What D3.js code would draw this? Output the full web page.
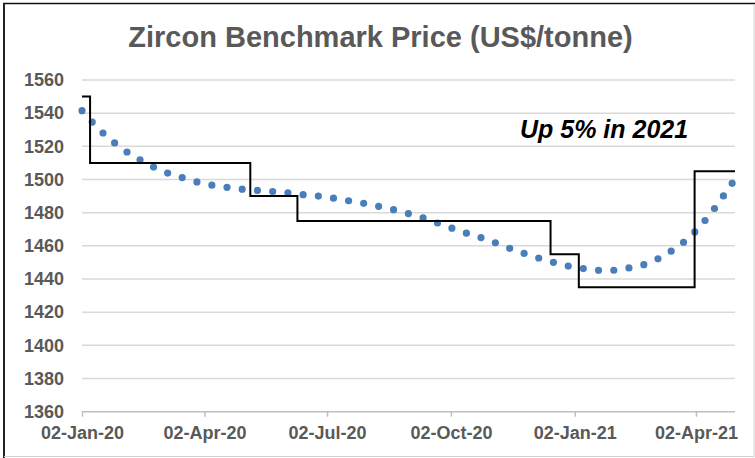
<!DOCTYPE html>
<html>
<head>
<meta charset="utf-8">
<script src="https://cdn.jsdelivr.net/npm/d3@7"></script>
<style>
  body { margin: 0; background: #fff; }
  svg { display: block; font-family: "Liberation Sans", Arial, sans-serif; }
</style>
</head>
<body>
<div id="main"></div>
<script>
// benchmark price, stepped: date the price changed and the new price
const stepDates = ['2020-01-02', '2020-01-08', '2020-05-06', '2020-06-10', '2020-12-15', '2021-01-05', '2021-04-01', '2021-05-01'];
const stepPrices = [1550, 1510, 1490, 1475, 1455, 1435, 1505, 1505];

// trendline
const trendDates = ['2020-01-02', '2020-01-17', '2020-02-01', '2020-02-16', '2020-03-02', '2020-03-17',
    '2020-04-01', '2020-04-16', '2020-05-01', '2020-05-16', '2020-05-31', '2020-06-15', '2020-06-30',
    '2020-07-15', '2020-07-30', '2020-08-14', '2020-08-29', '2020-09-13', '2020-09-28', '2020-10-13',
    '2020-10-28', '2020-11-12', '2020-11-27', '2020-12-12', '2020-12-27', '2021-01-11', '2021-01-26',
    '2021-02-10', '2021-02-25', '2021-03-12', '2021-03-27', '2021-04-11', '2021-04-26', '2021-04-30'];
const trendValues = [1541.5, 1528.5, 1518.5, 1511, 1505, 1501,
    1497.6, 1495.6, 1494.1, 1493.1, 1492.2, 1490.8, 1489.6,
    1487.6, 1485.5, 1483, 1480, 1476.4, 1472, 1467.8,
    1464, 1459.3, 1455, 1451.3, 1448, 1446, 1445.1,
    1446.5, 1449.4, 1455.5, 1464.4, 1477.5, 1494.3, 1499];

const xTickLabels = ['2020-01-02', '2020-04-02', '2020-07-02', '2020-10-02', '2021-01-02', '2021-04-02'];
const yTicks = [1360, 1380, 1400, 1420, 1440, 1460, 1480, 1500, 1520, 1540, 1560];

const title = 'Zircon Benchmark Price (US$/tonne)';
const note = 'Up 5% in 2021';

const width = 755, height = 458;
const parse = d3.utcParse('%Y-%m-%d');

const steps = stepDates.map((d, i) => ({ date: parse(d), value: stepPrices[i] }));
const trend = trendDates.map((d, i) => ({ date: parse(d), value: trendValues[i] }));

const x = d3.scaleUtc().domain([parse('2020-01-02'), parse('2021-05-01')]).range([82, 735]);
const y = d3.scaleLinear().domain([1360, 1560]).range([411.7, 80]);

let svg = d3.select('#main')
    .append('svg')
        .attr('width', width)
        .attr('height', height);

// frame
svg.append('line').attr('x1', 3).attr('x2', 755).attr('y1', 3.5).attr('y2', 3.5).attr('stroke', '#111').attr('stroke-width', 1.5);
svg.append('line').attr('x1', 4).attr('x2', 4).attr('y1', 3).attr('y2', 458).attr('stroke', '#222').attr('stroke-width', 2);
svg.append('line').attr('x1', 754).attr('x2', 754).attr('y1', 4).attr('y2', 457).attr('stroke', '#d0d0d0').attr('stroke-width', 1);
svg.append('line').attr('x1', 4).attr('x2', 754).attr('y1', 456.5).attr('y2', 456.5).attr('stroke', '#d0d0d0').attr('stroke-width', 1);

// gridlines
svg.selectAll('.grid')
    .data(yTicks.slice(1))
    .enter()
    .append('line')
        .attr('class', 'grid')
        .attr('x1', 82).attr('x2', 735)
        .attr('y1', d => y(d)).attr('y2', d => y(d))
        .attr('stroke', '#d9d9d9')
        .attr('stroke-width', 1.5);

// y axis labels
let yAxis = svg.append('g')
    .attr('transform', 'translate(82,0)')
    .call(d3.axisLeft(y).tickValues(yTicks).tickFormat(d3.format('d')).tickSize(0).tickPadding(18));
yAxis.select('.domain').remove();
yAxis.selectAll('text')
    .attr('fill', '#595959')
    .style('font-size', '18px')
    .style('font-weight', 'bold')
    .style('font-family', '"Liberation Sans", Arial, sans-serif');

// x axis
let xAxis = svg.append('g')
    .attr('transform', `translate(0,${y(1360)})`)
    .call(d3.axisBottom(x)
        .tickValues(xTickLabels.map(parse))
        .tickFormat(d3.utcFormat('%d-%b-%y'))
        .tickSize(5)
        .tickPadding(10));
xAxis.select('.domain').attr('stroke', '#bfbfbf').attr('stroke-width', 1.5).attr('d', 'M82,0H735');
xAxis.selectAll('.tick line').attr('stroke', '#bfbfbf').attr('stroke-width', 1.5);
xAxis.selectAll('text')
    .attr('fill', '#595959')
    .style('font-size', '18px')
    .style('font-weight', 'bold')
    .style('font-family', '"Liberation Sans", Arial, sans-serif');

// trendline, round dots along the curve
svg.append('path')
    .datum(trend)
    .attr('fill', 'none')
    .attr('stroke', '#4a7ebb')
    .attr('stroke-width', 7.2)
    .attr('stroke-linecap', 'round')
    .attr('stroke-dasharray', '0 15.3')
    .attr('d', d3.line().x(d => x(d.date)).y(d => y(d.value)).curve(d3.curveMonotoneX));

// stepped price
svg.append('path')
    .datum(steps)
    .attr('fill', 'none')
    .attr('stroke', '#000')
    .attr('stroke-width', 2)
    .attr('d', d3.line().x(d => x(d.date)).y(d => y(d.value)).curve(d3.curveStepAfter));

// title and note
svg.append('text')
    .attr('x', 380.5).attr('y', 47)
    .attr('text-anchor', 'middle')
    .attr('fill', '#595959')
    .style('font-size', '29px')
    .style('font-weight', 'bold')
    .text(title);

svg.append('text')
    .attr('x', 520).attr('y', 138)
    .attr('fill', '#000')
    .style('font-size', '25px')
    .style('font-weight', 'bold')
    .style('font-style', 'italic')
    .text(note);
</script>
</body>
</html>
